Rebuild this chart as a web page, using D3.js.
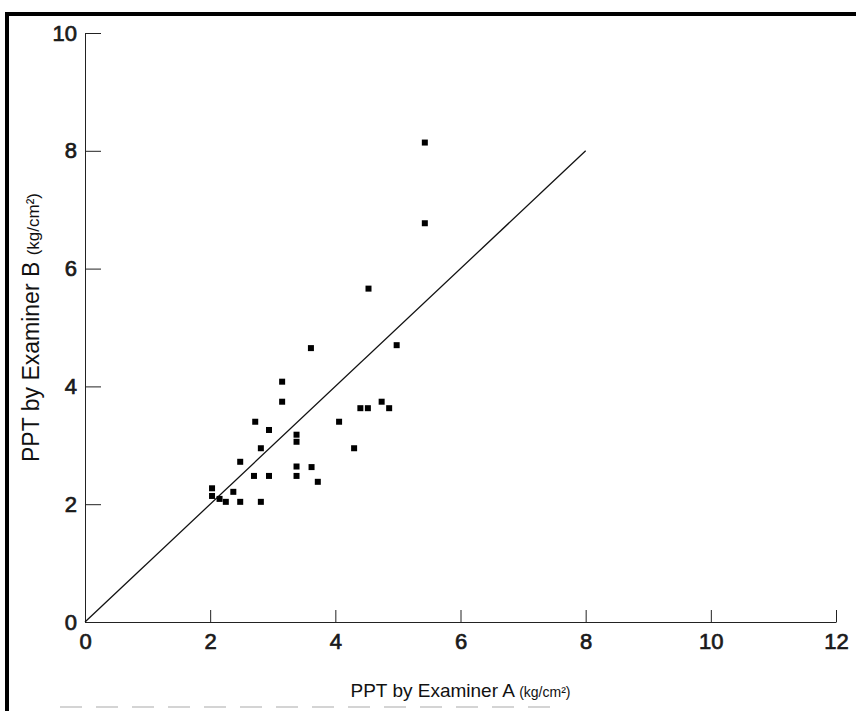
<!DOCTYPE html>
<html>
<head>
<meta charset="utf-8">
<script src="https://cdn.jsdelivr.net/npm/d3@7"></script>
<style>
  body { margin: 0; background: #fff; }
  svg { display: block; }
</style>
</head>
<body>
<div id="chart"></div>
<script>
// PPT readings, examiner A (x) vs examiner B (y), kg/cm2
const examinerA = [
  3.15, 3.15, 2.72, 2.94, 3.38, 3.38, 2.81, 2.48, 2.70, 2.94,
  3.38, 3.38, 3.62, 3.72, 2.03, 2.03, 2.15, 2.37, 2.25, 2.48,
  2.81, 4.06, 4.30, 4.40, 4.52, 4.74, 4.86, 3.61, 5.43, 5.43,
  4.53, 4.98
]
const examinerB = [
  4.08, 3.74, 3.40, 3.26, 3.18, 3.06, 2.95, 2.72, 2.48, 2.48,
  2.64, 2.48, 2.63, 2.38, 2.27, 2.14, 2.09, 2.21, 2.04, 2.04,
  2.04, 3.40, 2.95, 3.63, 3.63, 3.74, 3.63, 4.65, 8.14, 6.77,
  5.66, 4.70
]
const xTicks = [0, 2, 4, 6, 8, 10, 12]
const yTicks = [0, 2, 4, 6, 8, 10]
const identityLine = [[0, 0], [8, 8]]

const width = 856
const height = 711
const margin = {left: 85, right: 20, top: 33, bottom: 89}
const font = "'Liberation Sans', Arial, sans-serif"

const svg = d3.select("#chart").append("svg")
  .attr("width", width)
  .attr("height", height)

// scanned page edges
svg.append("rect")
  .attr("x", 5).attr("y", 12)
  .attr("width", width - 5).attr("height", 4)
  .attr("fill", "#000")
svg.append("rect")
  .attr("x", 5).attr("y", 12)
  .attr("width", 4).attr("height", height - 12)
  .attr("fill", "#000")
svg.append("line")
  .attr("x1", 60).attr("x2", 560)
  .attr("y1", 707).attr("y2", 707)
  .attr("stroke", "#d4d4d4")
  .attr("stroke-width", 2)
  .attr("stroke-dasharray", "22 14")

const x = d3.scaleLinear()
  .domain([0, 12])
  .range([margin.left, width - margin.right])
const y = d3.scaleLinear()
  .domain([0, 10])
  .range([height - margin.bottom, margin.top])

const xAxis = svg.append("g")
  .attr("transform", `translate(0,${y(0)})`)
  .call(d3.axisBottom(x)
    .tickValues(xTicks)
    .tickSizeInner(-12)
    .tickSizeOuter(0)
    .tickPadding(11)
    .tickFormat(d3.format("d")))

const yAxis = svg.append("g")
  .attr("transform", `translate(${x(0)},0)`)
  .call(d3.axisLeft(y)
    .tickValues(yTicks)
    .tickSizeInner(-16)
    .tickSizeOuter(0)
    .tickPadding(8)
    .tickFormat(d3.format("d")))

// scanned digits look heavier than regular, lighter than bold
svg.selectAll(".tick text")
  .attr("font-family", font)
  .attr("font-size", 22)
  .attr("fill", "#1a1a1a")
  .attr("stroke", "#1a1a1a")
  .attr("stroke-width", 0.7)

svg.selectAll(".domain, .tick line")
  .attr("stroke", "#222")
  .attr("stroke-width", 1)

svg.append("path")
  .datum(identityLine)
  .attr("d", d3.line().x(d => x(d[0])).y(d => y(d[1])))
  .attr("fill", "none")
  .attr("stroke", "#111")
  .attr("stroke-width", 1.3)

const size = 6
svg.append("g")
  .selectAll("rect")
  .data(d3.range(examinerA.length))
  .join("rect")
    .attr("x", i => x(examinerA[i]) - size / 2)
    .attr("y", i => y(examinerB[i]) - size / 2)
    .attr("width", size)
    .attr("height", size)
    .attr("fill", "#000")

// axis titles
const xTitle = svg.append("text")
  .attr("x", (x(0) + x(12)) / 2)
  .attr("y", 697)
  .attr("text-anchor", "middle")
  .attr("font-family", font)
  .attr("fill", "#111")
xTitle.append("tspan").attr("font-size", 19).text("PPT by Examiner A ")
xTitle.append("tspan").attr("font-size", 14).text("(kg/cm²)")

const yTitle = svg.append("text")
  .attr("transform", `translate(39,${(y(0) + y(10)) / 2}) rotate(-90)`)
  .attr("text-anchor", "middle")
  .attr("font-family", font)
  .attr("fill", "#111")
yTitle.append("tspan").attr("font-size", 23).text("PPT by Examiner B ")
yTitle.append("tspan").attr("font-size", 17).text("(kg/cm²)")
</script>
</body>
</html>
